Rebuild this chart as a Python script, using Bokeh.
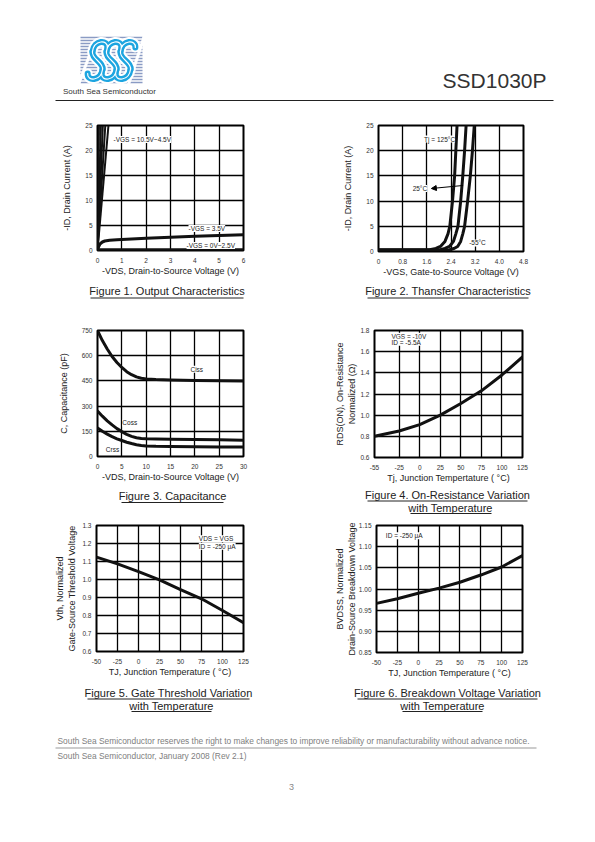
from bokeh.plotting import figure
from bokeh.layouts import column, row
from bokeh.models import Range1d, FixedTicker, Label, Arrow, NormalHead
from bokeh.embed import file_html
from bokeh.resources import INLINE
from bokeh.core.properties import value

FONT = "Liberation Sans"

# ---------------- data ----------------
# Figure 1: output characteristics
f1_hi_x = [[0, 0.06], [0, 0.14], [0, 0.22], [0, 0.32], [0, 0.45]]
f1_hi_y = [[0, 25], [0, 25], [0, 25], [0, 25], [0, 25]]
f1_v35_x = [0, 0.05, 0.1, 0.2, 0.3, 0.5, 0.8, 1, 2, 3, 4, 5, 6]
f1_v35_y = [0, 0.8, 1.3, 1.7, 1.9, 2.05, 2.15, 2.2, 2.45, 2.65, 2.85, 3.0, 3.15]
f1_lo_x = [0, 6]
f1_lo_y = [0.12, 0.12]
f1_xticks = [0, 1, 2, 3, 4, 5, 6]
f1_yticks = [0, 5, 10, 15, 20, 25]

# Figure 2: transfer characteristics
f2_t125_x = [0, 1.7, 1.9, 2.05, 2.2, 2.3, 2.36, 2.45, 2.52, 2.56, 2.6]
f2_t25_x = [0, 2.05, 2.2, 2.35, 2.48, 2.56, 2.63, 2.72, 2.79, 2.85, 2.9]
f2_tm55_x = [0, 2.35, 2.5, 2.62, 2.72, 2.79, 2.85, 2.95, 3.04, 3.11, 3.17]
f2_id_y = [0.3, 0.35, 0.6, 1.0, 2.0, 3.5, 5, 10, 15, 20, 25]
f2_xticks = [0, 0.8, 1.6, 2.4, 3.2, 4.0, 4.8]
f2_xlabels = ["0", "0.8", "1.6", "2.4", "3.2", "4.0", "4.8"]
f2_yticks = [0, 5, 10, 15, 20, 25]

# Figure 3: capacitance
f3_vds = [0, 1, 2, 3, 4, 5, 6, 7, 8, 9, 10, 12, 15, 20, 25, 30]
f3_ciss = [750, 690, 640, 595, 560, 530, 505, 487, 474, 466, 462, 458, 455, 453, 451, 450]
f3_coss = [270, 240, 212, 188, 166, 148, 132, 120, 112, 107, 105, 104, 103, 101, 99, 97]
f3_crss = [170, 150, 133, 118, 105, 95, 85, 77, 70, 66, 63, 61, 60, 58, 57, 56]
f3_xticks = [0, 5, 10, 15, 20, 25, 30]
f3_yticks = [0, 150, 300, 450, 600, 750]

# Figure 4: on-resistance vs temperature
f4_t = [-55, -25, 0, 25, 50, 75, 100, 125]
f4_r = [0.80, 0.85, 0.91, 1.0, 1.11, 1.23, 1.38, 1.55]
f4_xticks = [-55, -25, 0, 25, 50, 75, 100, 125]
f4_xlabels = ["-55", "-25", "0", "25", "50", "75", "100", "125"]
f4_yticks = [0.6, 0.8, 1.0, 1.2, 1.4, 1.6, 1.8]
f4_ylabels = ["0.6", "0.8", "1.0", "1.2", "1.4", "1.6", "1.8"]

# Figure 5: gate threshold vs temperature
f5_t = [-50, -25, 0, 25, 50, 75, 100, 125]
f5_v = [1.124, 1.087, 1.044, 0.998, 0.944, 0.893, 0.828, 0.76]
f5_xticks = [-50, -25, 0, 25, 50, 75, 100, 125]
f5_xlabels = ["-50", "-25", "0", "25", "50", "75", "100", "125"]
f5_yticks = [0.6, 0.7, 0.8, 0.9, 1.0, 1.1, 1.2, 1.3]
f5_ylabels = ["0.6", "0.7", "0.8", "0.9", "1.0", "1.1", "1.2", "1.3"]

# Figure 6: breakdown voltage vs temperature
f6_t = [-50, -25, 0, 25, 50, 75, 100, 125]
f6_bv = [0.966, 0.977, 0.990, 1.002, 1.016, 1.033, 1.052, 1.079]
f6_xticks = [-50, -25, 0, 25, 50, 75, 100, 125]
f6_xlabels = ["-50", "-25", "0", "25", "50", "75", "100", "125"]
f6_yticks = [0.85, 0.90, 0.95, 1.00, 1.05, 1.10, 1.15]
f6_ylabels = ["0.85", "0.90", "0.95", "1.00", "1.05", "1.10", "1.15"]

W = 595


def chart(xr, yr, xticks, yticks, xlabel, ylabel, fw, fh, bl, br, bt, bb,
          ylab_standoff=10, xlab_standoff=0, xlabels=None, ylabels=None):
    p = figure(frame_width=fw, frame_height=fh, min_border_left=bl, min_border_right=br,
               min_border_top=bt, min_border_bottom=bb, x_range=Range1d(*xr), y_range=Range1d(*yr),
               toolbar_location=None, output_backend="svg")
    p.outline_line_color = "black"
    p.outline_line_width = 2
    p.background_fill_color = "white"
    p.border_fill_color = "white"
    p.xaxis.ticker = FixedTicker(ticks=xticks)
    p.yaxis.ticker = FixedTicker(ticks=yticks)
    p.xgrid.ticker = FixedTicker(ticks=xticks)
    p.ygrid.ticker = FixedTicker(ticks=yticks)
    for g in (p.xgrid, p.ygrid):
        g.grid_line_color = "black"
        g.grid_line_width = 1.3
    for ax in (p.xaxis, p.yaxis):
        ax.axis_line_color = None
        ax.major_tick_line_color = None
        ax.minor_tick_line_color = None
        ax.major_tick_out = 0
        ax.major_tick_in = 0
        ax.minor_tick_out = 0
        ax.minor_tick_in = 0
        ax.major_label_text_font = FONT
        ax.major_label_text_font_size = "6.5px"
        ax.major_label_text_color = "#333333"
        ax.axis_label_text_font = FONT
        ax.axis_label_text_font_size = "9px"
        ax.axis_label_text_font_style = "normal"
        ax.axis_label_text_color = "#222222"
    p.xaxis.major_label_standoff = 7
    p.yaxis.major_label_standoff = 5
    p.xaxis.axis_label = xlabel
    p.yaxis.axis_label = ylabel
    p.xaxis.axis_label_standoff = xlab_standoff
    p.yaxis.axis_label_standoff = ylab_standoff
    if xlabels:
        p.xaxis.major_label_overrides = dict(zip(xticks, xlabels))
    if ylabels:
        p.yaxis.major_label_overrides = dict(zip(yticks, ylabels))
    return p


def lab(p, x, y, text, size="6.5px", bg="white"):
    l = Label(x=x, y=y, text=text, text_font=FONT, text_font_size=size, text_color="#222222",
              text_baseline="middle", text_align="left")
    if bg:
        l.background_fill_color = bg
    p.add_layout(l)


CURVE = dict(line_color="#111111", line_width=3, line_join="round", line_cap="round")

# ---------- Figure 1 ----------
p1 = chart((0, 6), (0, 25), f1_xticks, f1_yticks, "-VDS, Drain-to-Source Voltage (V)",
           "-ID, Drain Current (A)", 146, 125, 97, 77, 15, 30)
p1.multi_line(f1_hi_x, f1_hi_y, line_color="#111111", line_width=2)
p1.line(f1_v35_x, f1_v35_y, **CURVE)
p1.line(f1_lo_x, f1_lo_y, line_color="#111111", line_width=3.5)
lab(p1, 0.66, 22.2, "-VGS = 10.5V~4.5V")
lab(p1, 3.74, 4.4, "-VGS = 3.5V")
lab(p1, 3.66, 1.0, "-VGS = 0V~2.5V")

# ---------- Figure 2 ----------
p2 = chart((0, 4.8), (0, 25), f2_xticks, f2_yticks, "-VGS, Gate-to-Source Voltage (V)",
           "-ID, Drain Current (A)", 145, 126, 58, 72, 15, 29, xlabels=f2_xlabels)
for xs in (f2_t125_x, f2_t25_x, f2_tm55_x):
    p2.line(xs, f2_id_y, **CURVE)
lab(p2, 1.51, 22.3, "Tj = 125°C")
lab(p2, 1.13, 12.5, "25°C")
lab(p2, 3.0, 1.7, "-55°C")
p2.add_layout(Arrow(end=NormalHead(size=5, fill_color="black", line_color="black"),
                    x_start=2.8, y_start=13.1, x_end=1.75, y_end=12.5, line_width=1))

# ---------- Figure 3 ----------
p3 = chart((0, 30), (0, 750), f3_xticks, f3_yticks, "-VDS, Drain-to-Source Voltage (V)",
           "C, Capacitance (pF)", 146, 126, 97, 77, 18, 30)
for ys in (f3_ciss, f3_coss, f3_crss):
    p3.line(f3_vds, ys, **CURVE)
lab(p3, 19.1, 520, "Ciss")
lab(p3, 5.1, 200, "Coss")
lab(p3, 1.7, 44, "Crss")

# ---------- Figure 4 ----------
p4 = chart((-55, 125), (0.6, 1.8), f4_xticks, f4_yticks, "Tj, Junction Tempertature ( °C)",
           "RDS(ON), On-Resistance\nNormalized (Ω)", 148, 127, 54, 73, 17, 30, ylab_standoff=0,
           xlabels=f4_xlabels, ylabels=f4_ylabels)
p4.line(f4_t, f4_r, **CURVE)
lab(p4, -34.4, 1.745, "VGS = -10V")
lab(p4, -34.4, 1.69, "ID = -5.5A")

# ---------- Figure 5 ----------
p5 = chart((-50, 125), (0.6, 1.3), f5_xticks, f5_yticks, "TJ, Junction Temperature ( °C)",
           "Vth, Normalized\nGate-Source Threshold Voltage", 147, 126, 96, 77, 10, 31, ylab_standoff=2,
           xlabels=f5_xlabels, ylabels=f5_ylabels)
p5.line(f5_t, f5_v, **CURVE)
lab(p5, 71.8, 1.226, "VDS = VGS")
lab(p5, 71.8, 1.185, "ID = -250 μA")

# ---------- Figure 6 ----------
p6 = chart((-50, 125), (0.85, 1.15), f6_xticks, f6_yticks, "TJ, Junction Temperature ( °C)",
           "BVDSS, Normalized\nDrain-Source Breakdown Voltage", 146, 127, 56, 73, 10, 30, ylab_standoff=-1,
           xlabels=f6_xlabels, ylabels=f6_ylabels)
p6.line(f6_t, f6_bv, **CURVE)
lab(p6, -38.8, 1.126, "ID = -250 μA")


# ---------- page bands (page-pixel coordinates) ----------
def band(y0, y1):
    b = figure(width=W, height=y1 - y0, x_range=Range1d(0, W), y_range=Range1d(y1, y0),
               x_axis_location=None, y_axis_location=None, min_border=0,
               toolbar_location=None, output_backend="svg")
    b.grid.visible = False
    b.outline_line_color = None
    b.background_fill_color = "white"
    b.border_fill_color = "white"
    return b


def btext(b, x, y, t, size, color="#222222", align="center", style="normal", font=FONT):
    b.text(x=[x], y=[y], text=[t], text_font=value(font), text_font_size=size, text_color=color,
           text_align=align, text_baseline="middle", text_font_style=style)


# header with logo
hd = band(0, 110)
stripe_y = list(range(37, 83, 3))
hd.segment(x0=[80] * len(stripe_y), y0=stripe_y, x1=[142] * len(stripe_y), y1=stripe_y,
           line_color="#8a9bc4", line_width=1.5)
hd.segment(x0=[78, 128], y0=[84, 84], x1=[90, 144], y1=[52, 35], line_color="white", line_width=3)

# "S" letter shapes of the logo (three cubic segments per letter, slanted)
s_parts = [((7, -13), (6, -21), (-8, -21), (-7, -9)),
           ((-7, -9), (-7, -2), (7, 2), (7, 9)),
           ((7, 9), (8, 21), (-6, 21), (-7, 13))]
bx0, by0, bx1, by1, bcx0, bcy0, bcx1, bcy1 = ([] for _ in range(8))
for cx in (97, 111, 125):
    for (a, c0, c1, b) in s_parts:
        pts = [(cx + px - 0.22 * py, 60 + py) for (px, py) in (a, c0, c1, b)]
        bx0.append(pts[0][0]); by0.append(pts[0][1])
        bcx0.append(pts[1][0]); bcy0.append(pts[1][1])
        bcx1.append(pts[2][0]); bcy1.append(pts[2][1])
        bx1.append(pts[3][0]); by1.append(pts[3][1])
hd.bezier(x0=bx0, y0=by0, x1=bx1, y1=by1, cx0=bcx0, cy0=bcy0, cx1=bcx1, cy1=bcy1,
          line_color="white", line_width=10, line_cap="round")
hd.bezier(x0=bx0, y0=by0, x1=bx1, y1=by1, cx0=bcx0, cy0=bcy0, cx1=bcx1, cy1=bcy1,
          line_color="#1da5e0", line_width=6, line_cap="round")
hd.bezier(x0=bx0, y0=by0, x1=bx1, y1=by1, cx0=bcx0, cy0=bcy0, cx1=bcx1, cy1=bcy1,
          line_color="white", line_width=1.2, line_cap="round")
btext(hd, 109, 91, "South Sea Semiconductor", "8px", color="#333333")
btext(hd, 546, 80, "SSD1030P", "21px", color="#333333", align="right")
hd.segment(x0=[55], y0=[100], x1=[553], y1=[100], line_color="#222222", line_width=1)

# captions 1-2
c1 = band(280, 312)
btext(c1, 166.5, 290, "Figure 1. Output Characteristics", "11px")
btext(c1, 447.5, 290, "Figure 2. Thansfer Characteristics", "11px")
c1.segment(x0=[90, 367], y0=[297.5, 297.5], x1=[243, 528], y1=[297.5, 297.5], line_color="#222222", line_width=1)

# captions 3-4
c2 = band(486, 515)
btext(c2, 172, 495, "Figure 3. Capacitance", "11px")
btext(c2, 447, 494, "Figure 4. On-Resistance Variation", "11px")
btext(c2, 450, 507, "with Temperature", "11px")
c2.segment(x0=[121, 367, 410], y0=[502, 500.5, 513], x1=[223, 527, 491], y1=[502, 500.5, 513],
           line_color="#222222", line_width=1)

# captions 5-6 + footer
c3 = band(682, 842)
btext(c3, 168, 692, "Figure 5. Gate Threshold Variation", "11px")
btext(c3, 171, 705, "with Temperature", "11px")
btext(c3, 447, 692, "Figure 6. Breakdown Voltage Variation", "11px")
btext(c3, 442, 705, "with Temperature", "11px")
c3.segment(x0=[87, 131, 357, 402], y0=[698.5, 711, 698.5, 711], x1=[249, 211, 537, 482],
           y1=[698.5, 711, 698.5, 711], line_color="#222222", line_width=1)
btext(c3, 57, 740, "South Sea Semiconductor reserves the right to make changes to improve reliability or manufacturability without advance notice.",
      "8.4px", color="#808080", align="left")
c3.segment(x0=[55], y0=[747.5], x1=[536], y1=[747.5], line_color="#999999", line_width=1)
btext(c3, 57, 755, "South Sea Semiconductor, January 2008 (Rev 2.1)", "8.4px", color="#808080", align="left")
btext(c3, 291, 786, "3", "9px", color="#888888")

page = column(hd, row(p1, p2), c1, row(p3, p4), c2, row(p5, p6), c3)

open("out.html", "w").write(file_html(page, INLINE))
